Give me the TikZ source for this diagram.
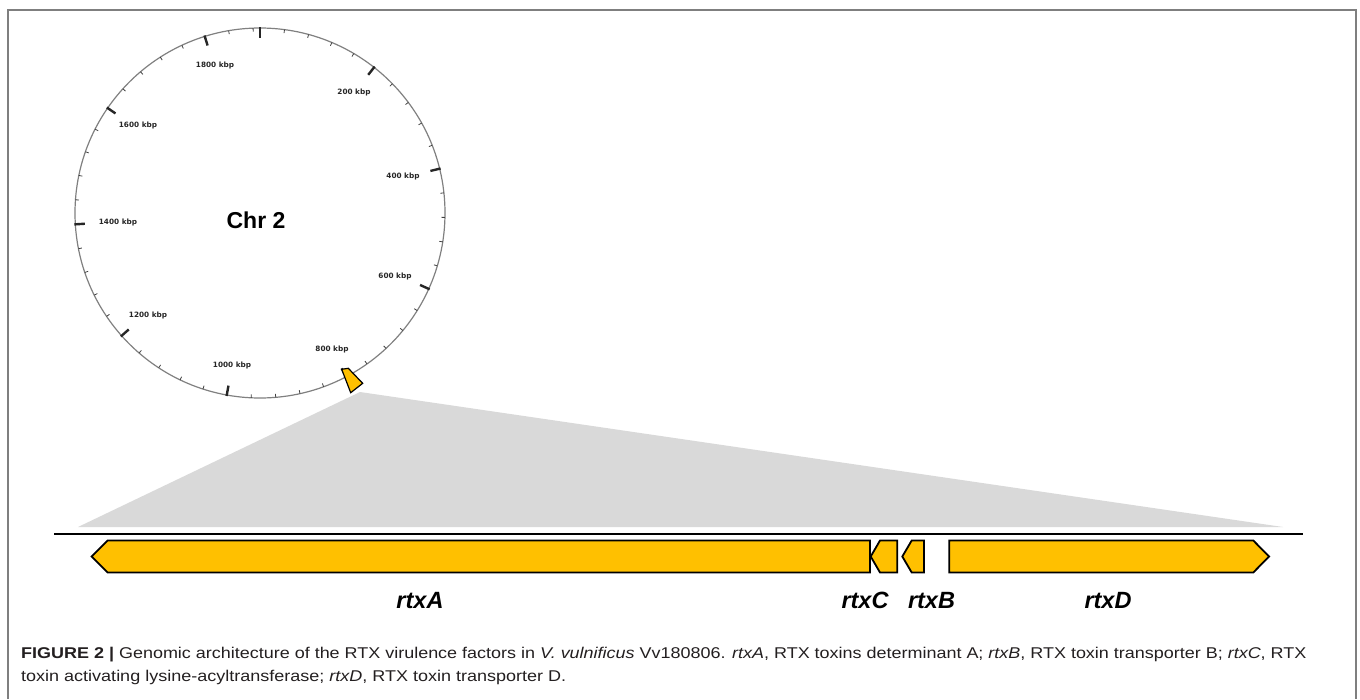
\documentclass[tikz,border=0pt]{standalone}
\usepackage{fontspec}
\usepackage{graphicx}
\setmainfont{Liberation Sans}
\newfontfamily\dejavu{DejaVu Sans}
\definecolor{genegold}{HTML}{FFC000}
\definecolor{wedgegray}{HTML}{D9D9D9}
\definecolor{framegray}{HTML}{7F7F7F}
\definecolor{captext}{HTML}{231F20}
\begin{document}
\begin{tikzpicture}[x=1pt,y=-1pt,
  genebox/.style={fill=genegold, draw=black, line width=1.8pt, line join=miter},
  ticklbl/.style={font=\dejavu\bfseries\fontsize{7.3}{9}\selectfont, text=black!85, inner sep=0pt},
  genelbl/.style={font=\bfseries\itshape\fontsize{23.5}{27}\selectfont, inner sep=0pt},
  caption/.style={font=\fontsize{15.6}{18}\selectfont, text=captext, inner sep=0pt, anchor=base west}]
\useasboundingbox (0,0) rectangle (1360,699);
% frame (open at bottom)
\draw[framegray, line width=1.6pt] (8,699) -- (8,10) -- (1356,10) -- (1356,699);
% gray wedge
\fill[wedgegray] (360,392) -- (78,527) -- (1283,527) -- cycle;
% circle
\draw[gray, line width=1.2pt] (260,213) circle[radius=185];
% minor ticks
\foreach \k in {1,...,47}{
  \pgfmathsetmacro\a{7.614*\k}
  \draw[black!75, line width=0.8pt] ({260+185*sin(\a)},{213-185*cos(\a)}) -- ({260+181.5*sin(\a)},{213-181.5*cos(\a)});
}
% major ticks
\foreach \k in {0,...,9}{
  \pgfmathsetmacro\a{38.07*\k}
  \draw[black!85, line width=2.4pt] ({260+186*sin(\a)},{213-186*cos(\a)}) -- ({260+175.5*sin(\a)},{213-175.5*cos(\a)});
}
% tick labels
\node[ticklbl] (l1800) at (215,65) {1800 kbp};
\node[ticklbl] (l200) at (354,92) {200 kbp};
\node[ticklbl] (l1600) at (138,125) {1600 kbp};
\node[ticklbl] (l400) at (403,176) {400 kbp};
\node[ticklbl] (l1400) at (118,222) {1400 kbp};
\node[ticklbl] (l600) at (395,276) {600 kbp};
\node[ticklbl] (l1200) at (148,315) {1200 kbp};
\node[ticklbl] (l800) at (332,349) {800 kbp};
\node[ticklbl] (l1000) at (232,365) {1000 kbp};
\node[font=\bfseries\fontsize{23}{27}\selectfont, inner sep=0pt] (chr) at (256,220.5) {Chr 2};
% marker on circle
\draw[fill=genegold, draw=black, line width=1.2pt, line join=miter] (341.7,369.3) -- (348.3,368.3) -- (362.7,383.3) -- (350.7,392.7) -- cycle;
% baseline
\draw[black, line width=2pt] (54,534) -- (1303,534);
% genes
\draw[genebox] (91.7,556.5) -- (107.7,540.5) -- (870,540.5) -- (870,572.5) -- (107.7,572.5) -- cycle;
\draw[genebox] (870.7,556.5) -- (880,540.5) -- (897.3,540.5) -- (897.3,572.5) -- (880,572.5) -- cycle;
\draw[genebox] (902.3,556.5) -- (911.7,540.5) -- (924,540.5) -- (924,572.5) -- (911.7,572.5) -- cycle;
\draw[genebox] (949.3,540.5) -- (1253.3,540.5) -- (1269,556.5) -- (1253.3,572.5) -- (949.3,572.5) -- cycle;
% gene labels
\node[genelbl] (rtxA) at (420,600) {rtxA};
\node[genelbl] (rtxC) at (865,600) {rtxC};
\node[genelbl] (rtxB) at (931.5,600) {rtxB};
\node[genelbl] (rtxD) at (1108,600) {rtxD};
% caption
\node[caption] (cap1) at (21,658) {\resizebox{1285pt}{\height}{\textbf{FIGURE 2 |} Genomic architecture of the RTX virulence factors in \textit{V. vulnificus} Vv180806. \textit{rtxA}, RTX toxins determinant A; \textit{rtxB}, RTX toxin transporter B; \textit{rtxC}, RTX}};
\node[caption] (cap2) at (21,681) {\resizebox{545pt}{\height}{toxin activating lysine-acyltransferase; \textit{rtxD}, RTX toxin transporter D.}};
\end{tikzpicture}
\end{document}
